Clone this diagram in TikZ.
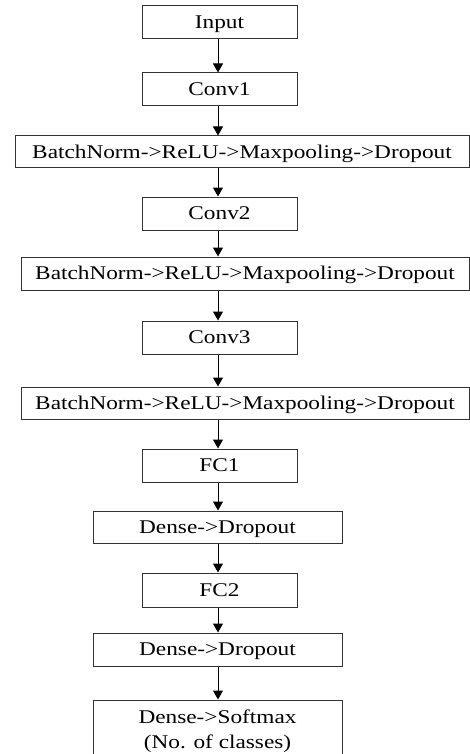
\documentclass[tikz,border=0pt]{standalone}
\usepackage{fontspec}
\setmainfont{Liberation Serif}[FakeStretch=1.2]
\usetikzlibrary{arrows.meta}
\begin{document}
\begin{tikzpicture}[x=1pt,y=-1pt,
  box/.style={draw=black!80, line width=1pt, inner sep=0pt, align=center,
    font=\fontsize{19.4}{25}\selectfont, text=black},
  one/.style={text height=12.8pt, text depth=0pt},
  flow/.style={draw=black, line width=1pt, -{Triangle[width=10pt,length=9pt]}}]
\useasboundingbox (0,0) rectangle (470,754);
\fill[white] (0,0) rectangle (470,754);
\clip (0,0) rectangle (470,754);
\coordinate (axis) at (218,0);
\node[box, one, minimum width=155pt, minimum height=33pt] (input) at (219.5,22.5) {Input};
\node[box, one, minimum width=155pt, minimum height=33pt] (conv1) at (219.5,89.5) {Conv1};
\node[box, one, minimum width=454pt, minimum height=32pt] (bn1) at (242,152) {BatchNorm->ReLU->Maxpooling->Dropout};
\node[box, one, minimum width=155pt, minimum height=33pt] (conv2) at (219.5,213.5) {Conv2};
\node[box, one, minimum width=448pt, minimum height=33pt] (bn2) at (245,273.5) {BatchNorm->ReLU->Maxpooling->Dropout};
\node[box, one, minimum width=155pt, minimum height=33pt] (conv3) at (219.5,337.5) {Conv3};
\node[box, one, minimum width=448pt, minimum height=32pt] (bn3) at (245,403) {BatchNorm->ReLU->Maxpooling->Dropout};
\node[box, one, minimum width=155pt, minimum height=33pt] (fc1) at (219.5,465.5) {FC1};
\node[box, one, minimum width=249pt, minimum height=32pt] (dense1) at (217.5,527) {Dense->Dropout};
\node[box, one, minimum width=155pt, minimum height=34pt] (fc2) at (219.5,590) {FC2};
\node[box, one, minimum width=249pt, minimum height=33pt] (dense2) at (217.5,649.5) {Dense->Dropout};
\node[box, minimum width=249pt, minimum height=62pt] (softmax) at (217.5,731) {Dense->Softmax\\(No. of classes)};
\draw[flow] (input.south -| axis) -- (conv1.north -| axis);
\draw[flow] (conv1.south -| axis) -- (bn1.north -| axis);
\draw[flow] (bn1.south -| axis) -- (conv2.north -| axis);
\draw[flow] (conv2.south -| axis) -- (bn2.north -| axis);
\draw[flow] (bn2.south -| axis) -- (conv3.north -| axis);
\draw[flow] (conv3.south -| axis) -- (bn3.north -| axis);
\draw[flow] (bn3.south -| axis) -- (fc1.north -| axis);
\draw[flow] (fc1.south -| axis) -- (dense1.north -| axis);
\draw[flow] (dense1.south -| axis) -- (fc2.north -| axis);
\draw[flow] (fc2.south -| axis) -- (dense2.north -| axis);
\draw[flow] (dense2.south -| axis) -- (softmax.north -| axis);
\end{tikzpicture}
\end{document}
